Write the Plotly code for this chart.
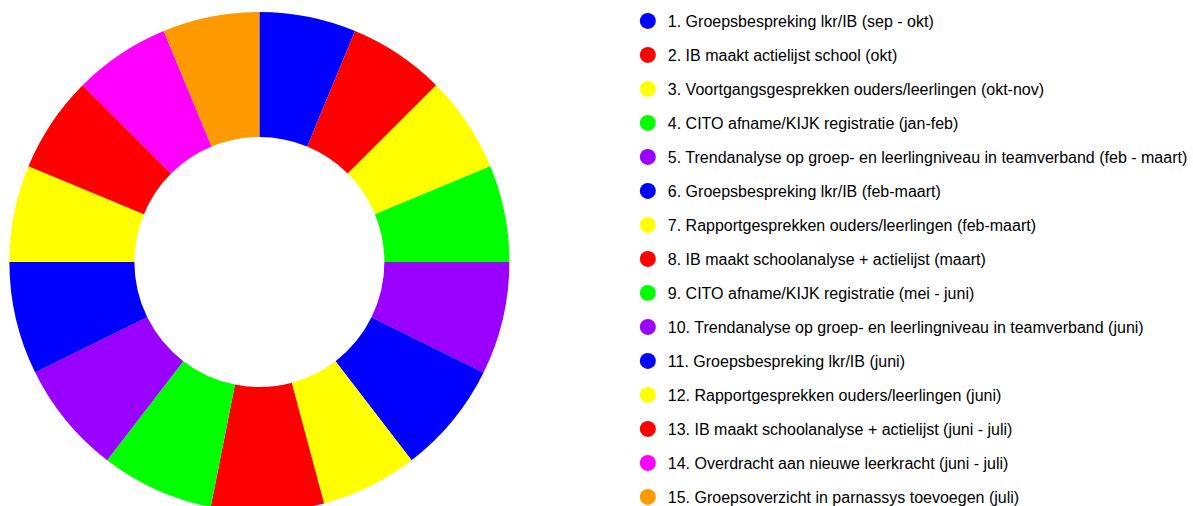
import plotly.graph_objects as go

labels = [
    "1. Groepsbespreking lkr/IB (sep - okt)",
    "2. IB maakt actielijst school (okt)",
    "3. Voortgangsgesprekken ouders/leerlingen (okt-nov)",
    "4. CITO afname/KIJK registratie (jan-feb)",
    "5. Trendanalyse op groep- en leerlingniveau in teamverband (feb - maart)",
    "6. Groepsbespreking lkr/IB (feb-maart)",
    "7. Rapportgesprekken ouders/leerlingen (feb-maart)",
    "8. IB maakt schoolanalyse + actielijst (maart)",
    "9. CITO afname/KIJK registratie (mei - juni)",
    "10. Trendanalyse op groep- en leerlingniveau in teamverband (juni)",
    "11. Groepsbespreking lkr/IB (juni)",
    "12. Rapportgesprekken ouders/leerlingen (juni)",
    "13. IB maakt schoolanalyse + actielijst (juni - juli)",
    "14. Overdracht aan nieuwe leerkracht (juni - juli)",
    "15. Groepsoverzicht in parnassys toevoegen (juli)",
]
values = [6, 6, 6, 6, 7, 7, 6, 7, 7, 7, 7, 6, 6, 6, 6]
colors = ["#0000ff", "#ff0000", "#ffff00", "#00ff00", "#9900ff",
          "#0000ff", "#ffff00", "#ff0000", "#00ff00", "#9900ff",
          "#0000ff", "#ffff00", "#ff0000", "#ff00ff", "#ff9900"]

W, H = 1193, 520

fig = go.Figure()
fig.add_trace(go.Pie(
    labels=labels, values=values, hole=0.5, sort=False,
    direction="clockwise", rotation=0,
    marker=dict(colors=colors, line=dict(width=0)),
    textinfo="none", showlegend=False,
    domain=dict(x=[0, 521.4 / W], y=[8 / H, 508 / H]),
))
for i, (lab, col) in enumerate(zip(labels, colors)):
    fig.add_trace(go.Scatter(
        x=[None], y=[None], mode="markers", name=lab,
        marker=dict(color=col, size=16, symbol="circle"),
        legendgroup=f"g{i}", showlegend=True,
    ))

fig.update_layout(
    width=W, height=H,
    margin=dict(l=0, r=0, t=0, b=0),
    paper_bgcolor="white", plot_bgcolor="white",
    font=dict(family="Arial, Liberation Sans, sans-serif", size=16, color="#000000"),
    xaxis=dict(visible=False), yaxis=dict(visible=False),
    legend=dict(
        x=631 / W, xanchor="left", y=1 - 4 / H, yanchor="top",
        tracegroupgap=10.2, itemclick=False,
        font=dict(size=16, color="#000000"),
        bgcolor="rgba(0,0,0,0)",
    ),
)
fig.write_html("out.html", config={"displayModeBar": False},
               post_script="document.body.style.margin='0px';")
